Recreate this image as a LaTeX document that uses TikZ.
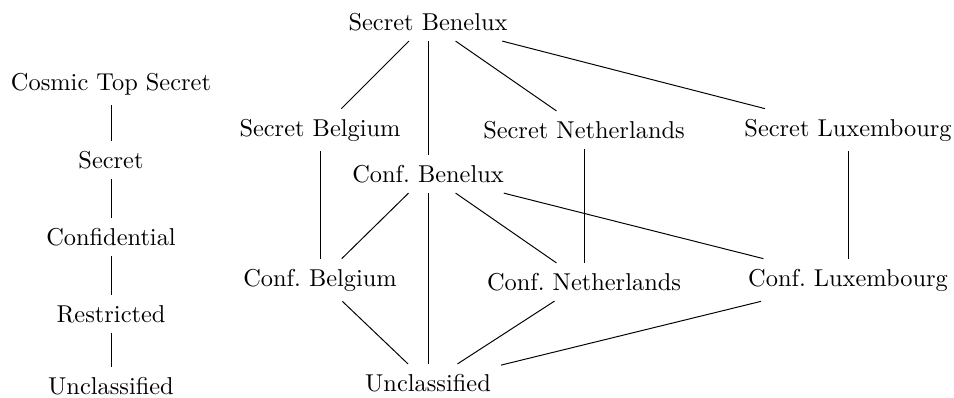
\documentclass[tikz,border=0pt]{standalone}
\begin{document}
\begin{tikzpicture}[x=0.41pt,y=-0.41pt, lbl/.style={inner sep=4pt}, edge/.style={draw, line width=0.4pt}]
\useasboundingbox (0,0) rectangle (954,398);
% left chain
\node[lbl] (cts) at (111,84) {Cosmic Top Secret};
\node[lbl] (s) at (111,160) {Secret};
\node[lbl] (c) at (111,237) {Confidential};
\node[lbl] (r) at (111,314) {Restricted};
\node[lbl] (u) at (111,386) {Unclassified};
\draw[edge] (cts) -- (s);
\draw[edge] (s) -- (c);
\draw[edge] (c) -- (r);
\draw[edge] (r) -- (u);
% lattice
\node[lbl] (sb) at (428,22) {Secret Benelux};
\node[lbl] (sbe) at (320,130) {Secret Belgium};
\node[lbl] (sne) at (584,130) {Secret Netherlands};
\node[lbl] (slu) at (848,130) {Secret Luxembourg};
\node[lbl] (cb) at (428,174) {Conf.~Benelux};
\node[lbl] (cbe) at (320,280) {Conf.~Belgium};
\node[lbl] (cne) at (584,282) {Conf.~Netherlands};
\node[lbl] (clu) at (848,280) {Conf.~Luxembourg};
\node[lbl] (un) at (428,383) {Unclassified};
\draw[edge] (sb) -- (sbe);
\draw[edge] (sb) -- (sne);
\draw[edge] (sb) -- (slu);
\draw[edge] (sb) -- (cb);
\draw[edge] (sbe) -- (cbe);
\draw[edge] (sne) -- (cne);
\draw[edge] (slu) -- (clu);
\draw[edge] (cb) -- (cbe);
\draw[edge] (cb) -- (cne);
\draw[edge] (cb) -- (clu);
\draw[edge] (cb) -- (un);
\draw[edge] (cbe) -- (un);
\draw[edge] (cne) -- (un);
\draw[edge] (clu) -- (un);
\end{tikzpicture}
\end{document}
